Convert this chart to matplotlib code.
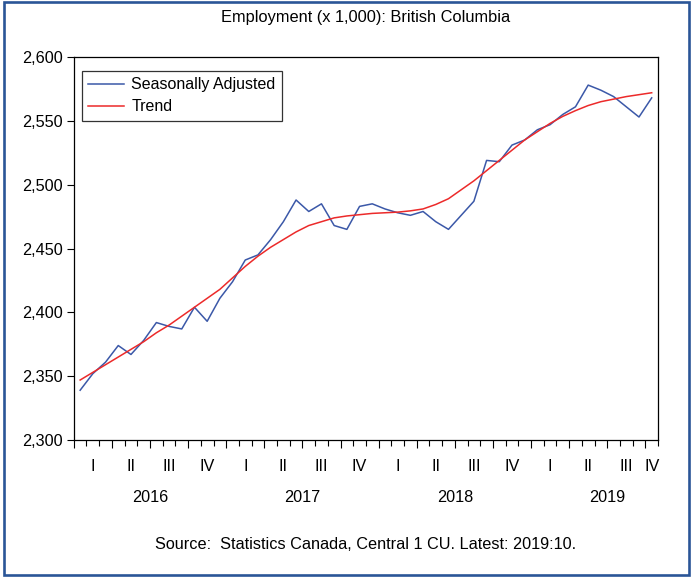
import numpy as np
import matplotlib.pyplot as plt
from matplotlib.patches import Rectangle

plt.rcParams['font.family'] = ['Liberation Sans', 'DejaVu Sans']

# monthly data, 2016:01 to 2019:10 (thousands)
seasonally_adjusted = [
    2339, 2352, 2361, 2374, 2367, 2378, 2392, 2389, 2387, 2404, 2393, 2411,
    2424, 2441, 2445, 2457, 2471, 2488, 2479, 2485, 2468, 2465, 2483, 2485,
    2481, 2478, 2476, 2479, 2471, 2465, 2476, 2487, 2519, 2518, 2531, 2535,
    2543, 2547, 2555, 2561, 2578, 2574, 2569, 2561, 2553, 2568,
]
trend = [
    2347, 2353, 2359, 2365, 2371, 2377, 2384, 2390, 2397, 2404, 2411, 2418,
    2427, 2436, 2444, 2451, 2457, 2463, 2468, 2471, 2474, 2475.5, 2476.5, 2477.5,
    2478, 2478.5, 2479.5, 2481, 2484.5, 2489, 2496, 2503, 2511, 2519, 2527, 2535,
    2541.5, 2548, 2553.5, 2558, 2562, 2565, 2567, 2569, 2570.5, 2572,
]
years = ['2016', '2017', '2018', '2019']
quarters = ['I', 'II', 'III', 'IV']
y_ticks = [2300, 2350, 2400, 2450, 2500, 2550, 2600]

x = np.arange(len(seasonally_adjusted))

fig = plt.figure(figsize=(6.91, 5.77), dpi=100)
ax = fig.add_axes([0.1068, 0.2374, 0.8455, 0.6638])

ax.plot(x, seasonally_adjusted, color='#3b58a8', lw=1.1, label='Seasonally Adjusted')
ax.plot(x, trend, color='#ec2a2a', lw=1.1, label='Trend')

ax.set_xlim(-0.5, len(x) - 0.5)
ax.set_ylim(2300, 2600)
ax.set_yticks(y_ticks)
ax.set_yticklabels([f'{v:,}' for v in y_ticks])
ax.tick_params(axis='y', direction='out', length=5, width=0.8, labelsize=11.7, pad=3)

# month boundaries as minor ticks, quarter boundaries as major
ax.set_xticks(np.arange(-0.5, len(x), 3))
ax.set_xticks(np.arange(-0.5, len(x), 1), minor=True)
ax.set_xticklabels([])
ax.tick_params(axis='x', which='major', direction='out', length=6, width=0.8)
ax.tick_params(axis='x', which='minor', direction='out', length=4, width=0.8)

for s in ax.spines.values():
    s.set_linewidth(0.9)

# quarter and year labels
tr = ax.get_xaxis_transform()
for q in range(0, len(x), 3):
    ax.text(q + 1 if q + 1 < len(x) else q, -0.07, quarters[(q // 3) % 4], transform=tr,
            ha='center', va='center', fontsize=11.7)
for i, yr in enumerate(years):
    ax.text(i * 12 + 5.5, -0.15, yr, transform=tr, ha='center', va='center', fontsize=11.7)

leg = ax.legend(loc='upper left', bbox_to_anchor=(0.014, 0.964), borderaxespad=0,
                fontsize=11.5, frameon=True, fancybox=False, edgecolor='black',
                handlelength=2.2, handletextpad=0.5, labelspacing=0.45, borderpad=0.4)
leg.get_frame().set_linewidth(0.9)

fig.text(0.529, 0.969, 'Employment (x 1,000): British Columbia', ha='center', va='center', fontsize=11.8)
fig.text(0.529, 0.057, 'Source:  Statistics Canada, Central 1 CU. Latest: 2019:10.',
         ha='center', va='center', fontsize=11.7)

fig.patches.append(Rectangle((0.0055, 0.003), 0.991, 0.9936, transform=fig.transFigure,
                             fill=False, edgecolor='#2a5597', lw=1.9))

fig.savefig('out.png', dpi=100)
